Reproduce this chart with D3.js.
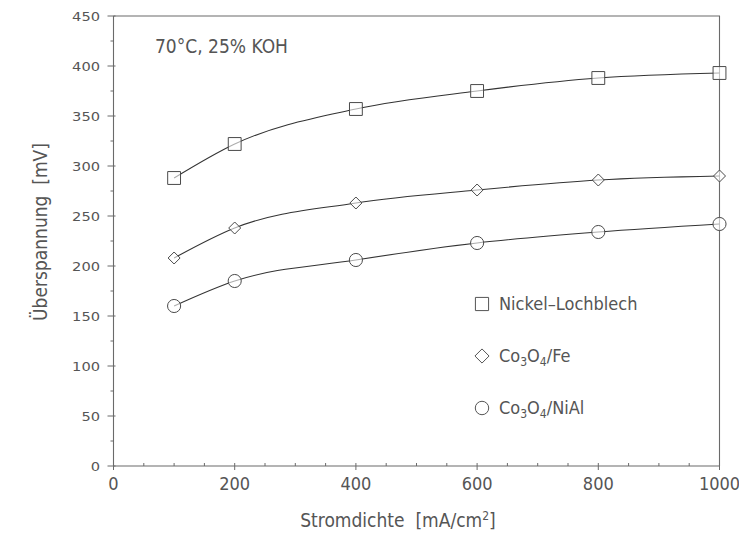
<!DOCTYPE html>
<html>
<head>
<meta charset="utf-8">
<script src="https://cdn.jsdelivr.net/npm/d3@7"></script>
<style>
  html, body { margin: 0; padding: 0; background: #fff; }
  svg { display: block; }
  text { font-family: "DejaVu Sans Condensed", "Liberation Sans Narrow", "DejaVu Sans", sans-serif; font-stretch: condensed; fill: #555; white-space: pre; }
</style>
</head>
<body>
<svg id="chart" width="739" height="534"></svg>
<script>
// Stromdichte in mA/cm²
const currentDensity = [100, 200, 400, 600, 800, 1000];

// Überspannung in mV per Elektrodenmaterial
const nickelLochblech = [288, 322, 357, 375, 388, 393];
const co3o4Fe        = [208, 238, 263, 276, 286, 290];
const co3o4NiAl      = [160, 185, 206, 223, 234, 242];

const xTicks = [0, 200, 400, 600, 800, 1000];
const yTicks = [0, 50, 100, 150, 200, 250, 300, 350, 400, 450];

// Raute: um 45° gedrehtes Quadrat
const symbolRhomb = {
  draw(context, size) {
    const r = Math.sqrt(size / 2);
    context.moveTo(0, -r);
    context.lineTo(r, 0);
    context.lineTo(0, r);
    context.lineTo(-r, 0);
    context.closePath();
  }
};

const series = [
  { name: "Nickel-Lochblech", values: nickelLochblech, symbol: d3.symbolSquare, size: 165 },
  { name: "Co3O4/Fe",         values: co3o4Fe,         symbol: symbolRhomb,     size: 72 },
  { name: "Co3O4/NiAl",       values: co3o4NiAl,       symbol: d3.symbolCircle, size: 135 }
];

const svg = d3.select("#chart");
const margin = { left: 113.5, right: 19.5, top: 16, bottom: 68 };
const W = 739, H = 534;

const x = d3.scaleLinear().domain([0, 1000]).range([margin.left, W - margin.right]);
const y = d3.scaleLinear().domain([0, 450]).range([H - margin.bottom, margin.top]);

const axisColor = "#6a6a6a";

// Rahmen (oben und rechts)
svg.append("path")
  .attr("d", `M${x(0)},${y(450)}H${x(1000)}V${y(0)}`)
  .attr("fill", "none").attr("stroke", axisColor).attr("stroke-width", 1.1);

// x-Achse
const gx = svg.append("g").attr("transform", `translate(0,${y(0)})`);
gx.append("line").attr("x1", x(0)).attr("x2", x(1000)).attr("stroke", axisColor).attr("stroke-width", 1.1);
gx.selectAll(".minor").data(d3.range(50, 1000, 50).filter(v => v % 200 !== 0)).join("line")
  .attr("x1", d => x(d)).attr("x2", d => x(d)).attr("y1", 0).attr("y2", -3)
  .attr("stroke", axisColor);
gx.selectAll(".major").data(xTicks).join("line")
  .attr("x1", d => x(d)).attr("x2", d => x(d)).attr("y1", -3).attr("y2", 4)
  .attr("stroke", axisColor);
gx.selectAll("text").data(xTicks).join("text")
  .attr("x", d => x(d)).attr("y", 24)
  .attr("text-anchor", "middle").attr("font-size", 18)
  .text(d => d);

// y-Achse
const gy = svg.append("g").attr("transform", `translate(${x(0)},0)`);
gy.append("line").attr("y1", y(0)).attr("y2", y(450)).attr("stroke", axisColor).attr("stroke-width", 1.1);
gy.selectAll(".minor").data(d3.range(25, 450, 50)).join("line")
  .attr("y1", d => y(d)).attr("y2", d => y(d)).attr("x1", 0).attr("x2", -3)
  .attr("stroke", axisColor);
gy.selectAll(".major").data(yTicks).join("line")
  .attr("y1", d => y(d)).attr("y2", d => y(d)).attr("x1", -6).attr("x2", 2)
  .attr("stroke", axisColor);
gy.selectAll("text").data(yTicks).join("text")
  .attr("transform", d => `translate(-13.5,${y(d)}) scale(1.25,1)`)
  .attr("dy", "0.36em")
  .attr("text-anchor", "end").attr("font-size", 13)
  .text(d => d);

// Achsentitel
const xt = svg.append("text")
  .attr("x", 398).attr("y", 527)
  .attr("text-anchor", "middle").attr("font-size", 19);
xt.append("tspan").text("Stromdichte\u00a0\u00a0[mA/cm");
xt.append("tspan").attr("dy", -7).attr("font-size", 12).text("2");
xt.append("tspan").attr("dy", 7).text("]");

svg.append("text")
  .attr("transform", `translate(47,232) rotate(-90)`)
  .attr("text-anchor", "middle").attr("font-size", 19)
  .text("Überspannung\u00a0\u00a0[mV]");

// Bedingungen
svg.append("text")
  .attr("x", 155).attr("y", 53).attr("font-size", 19)
  .text("70°C, 25% KOH");

// Kurven und Messpunkte
const line = d3.line()
  .x((d, i) => x(currentDensity[i]))
  .y(d => y(d))
  .curve(d3.curveMonotoneX);

series.forEach(s => {
  svg.append("path")
    .attr("d", line(s.values))
    .attr("fill", "none").attr("stroke", "#333").attr("stroke-width", 1.1);
  svg.append("g").selectAll("path").data(s.values).join("path")
    .attr("transform", (d, i) => `translate(${x(currentDensity[i])},${y(d)})`)
    .attr("d", d3.symbol().type(s.symbol).size(s.size))
    .attr("fill", "#fff").attr("fill-opacity", 0.6)
    .attr("stroke", "#4a4a4a").attr("stroke-width", 1);
});

// Legende
const legendY = [304, 356, 408];
const legend = svg.append("g");
series.forEach((s, i) => {
  const g = legend.append("g").attr("transform", `translate(482,${legendY[i]})`);
  g.append("path")
    .attr("d", d3.symbol().type(s.symbol).size(i === 1 ? 100 : s.size * 1.05))
    .attr("fill", "none").attr("stroke", "#555").attr("stroke-width", 1);
  const t = g.append("text").attr("x", 17).attr("dy", "0.36em").attr("font-size", 18);
  if (i === 0) {
    t.text("Nickel\u2013Lochblech");
  } else {
    t.append("tspan").text("Co");
    t.append("tspan").attr("dy", 4).attr("font-size", 12).text("3");
    t.append("tspan").attr("dy", -4).text("O");
    t.append("tspan").attr("dy", 4).attr("font-size", 12).text("4");
    t.append("tspan").attr("dy", -4).text(i === 1 ? "/Fe" : "/NiAl");
  }
});
</script>
</body>
</html>
